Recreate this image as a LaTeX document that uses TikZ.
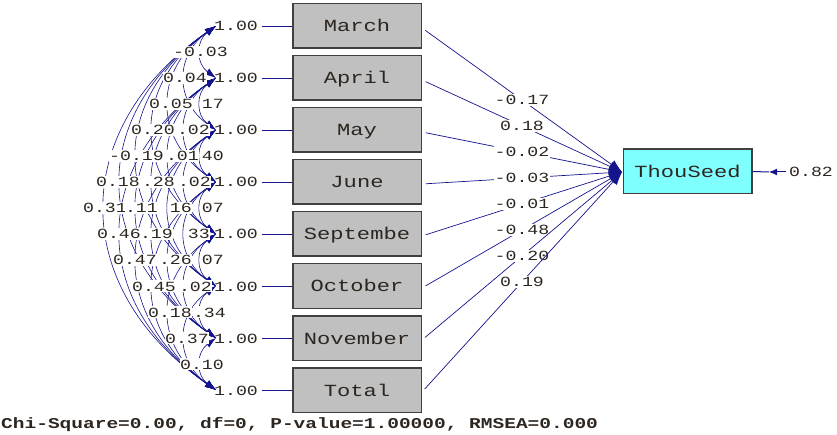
\documentclass[tikz,border=0pt]{standalone}
\usepackage{fontspec}
\newfontfamily\lmono[FakeStretch=1.3]{Liberation Mono}
\usetikzlibrary{arrows.meta,calc}
\definecolor{navyline}{RGB}{20,20,140}
\definecolor{txt}{RGB}{45,38,32}
\definecolor{boxgray}{RGB}{192,192,192}
\definecolor{boxedge}{RGB}{64,64,64}
\definecolor{cyanbox}{RGB}{128,255,255}
\begin{document}
\begin{tikzpicture}[x=1pt,y=-1pt,
  varbox/.style={draw=boxedge, line width=1.5pt, fill=boxgray, minimum width=128.5pt, minimum height=44.5pt, inner sep=0pt, text=txt, font=\lmono\fontsize{17}{17}\selectfont, text height=12pt, text depth=0pt},
  outbox/.style={varbox, fill=cyanbox},
  lab/.style={inner xsep=0pt, inner ysep=1pt, text=txt, font=\lmono\fontsize{14}{14}\selectfont, text height=10pt, text depth=0pt},
  corrlab/.style={lab, fill=white},
  pathlab/.style={lab, fill=white, inner xsep=1pt},
  pathline/.style={draw=navyline, line width=0.7pt},
  corr/.style={draw=navyline, line width=0.6pt, {Latex[length=11pt,width=7.5pt]}-{Latex[length=11pt,width=7.5pt]}},
  patharrow/.style={pathline, -{Latex[length=13pt,width=10pt]}},
  stattext/.style={inner sep=0pt, text=txt, font=\lmono\bfseries\fontsize{15}{15}\selectfont}
]
\useasboundingbox (0,0) rectangle (837,435);

% observed variables
\foreach \i/\name in {1/March,2/April,3/May,4/June,5/Septembe,6/October,7/November,8/Total}{
  \pgfmathsetmacro\yy{26+52*(\i-1)}
  \node[varbox] (v\i) at (357,\yy) {\name};
  \coordinate (c\i) at (216,\yy);
}

% correlation arcs
\foreach \i/\j in {1/2,1/3,1/4,1/5,1/6,1/7,1/8,2/3,2/4,2/5,2/6,2/7,2/8,3/4,3/5,3/6,3/7,3/8,4/5,4/6,4/7,4/8,5/6,5/7,5/8,6/7,6/8,7/8}{
  \pgfmathsetmacro\d{\j-\i}
  \pgfmathsetmacro\k{(16*\d-1)/0.75}
  \pgfmathsetmacro\h{0.28*52*\d}
  \draw[corr] (c\i) .. controls ($(c\i)+(-\k,\h)$) and ($(c\j)+(-\k,-\h)$) .. (c\j);
}

% correlation labels
\foreach \i/\j/\t/\x in {1/2/{-0.03}/228,1/3/{0.04}/207,1/4/{0.05}/193,1/5/{0.20}/175,1/6/{-0.19}/164,1/7/{0.18}/140,1/8/{0.31}/127,
  2/3/{17}/224,2/4/{.02}/210,2/5/{.01}/199,2/6/{.28}/175,2/7/{.11}/158,2/8/{0.46}/141,
  3/4/{40}/224,3/5/{.02}/211,3/6/{16}/192,3/7/{.19}/173,3/8/{0.47}/157,
  4/5/{07}/224,4/6/{33}/210,4/7/{.26}/192,4/8/{0.45}/176,
  5/6/{07}/224,5/7/{.02}/212,5/8/{0.18}/192,
  6/7/{.34}/226,6/8/{0.37}/209,7/8/{0.10}/224}{
  \pgfmathsetmacro\ym{26+26*(\i+\j-2)}
  \node[corrlab, anchor=east] (r\i\j) at (\x,\ym) {\t};
}

% variances
\foreach \i in {1,...,8}{
  \pgfmathsetmacro\yy{26+52*(\i-1)}
  \node[lab, anchor=west] (s\i) at (214,\yy) {1.00};
  \draw[pathline, shorten <=4pt] (s\i) -- (v\i);
}

% dependent variable
\node[outbox] (ts) at (687.5,171.5) {ThouSeed};
\coordinate (tin) at (622,172);

% paths
\foreach \i/\t in {1/{-0.17},2/{0.18},3/{-0.02},4/{-0.03},5/{-0.01},6/{-0.48},7/{-0.20},8/{0.19}}{
  \draw[patharrow, shorten <=4pt] ([yshift=-2pt]v\i.east) -- (tin) node[pathlab, pos=0.5] (p\i) {\t};
}

% error
\coordinate (e0) at (786,172);
\coordinate (e1) at (769,172);
\draw[pathline, line width=1pt, -{Latex[length=8pt,width=7pt]}] (e0) -- (e1);
\draw[pathline, line width=1pt] (e1) -- (ts.east);
\node[lab, anchor=west] (err) at (789,172) {0.82};

% fit statistics
\node[stattext, anchor=west] (fit) at (1,425) {Chi-Square=0.00, df=0, P-value=1.00000, RMSEA=0.000};
\end{tikzpicture}
\end{document}
